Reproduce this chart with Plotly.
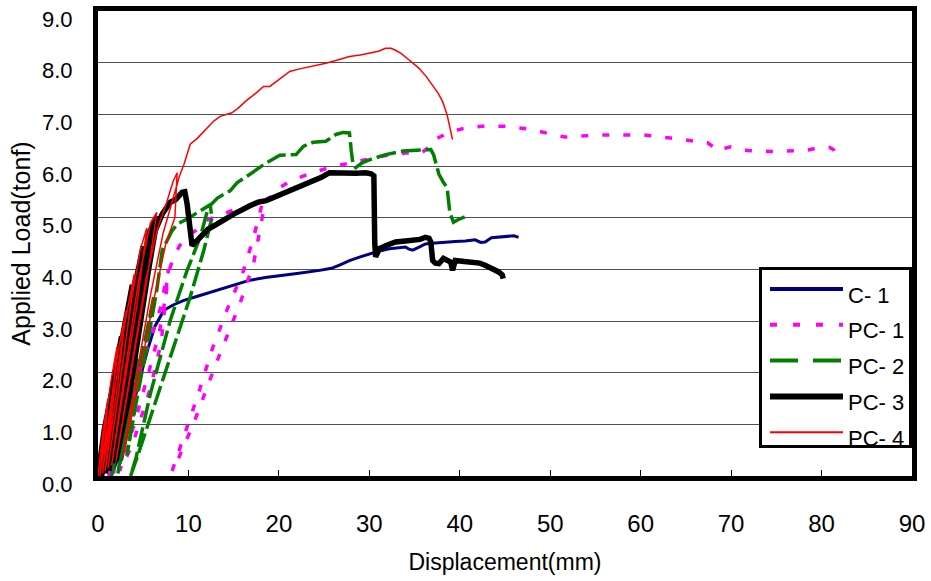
import plotly.graph_objects as go

# ---------------- data ----------------
series_names = ["C- 1", "PC- 1", "PC- 2", "PC- 3", "PC- 4"]
x_tick_vals = [0, 10, 20, 30, 40, 50, 60, 70, 80, 90]
y_tick_vals = [0, 1, 2, 3, 4, 5, 6, 7, 8, 9]

c1_x = [1.2, 2.0, 2.8, 3.6, 3.0, 2.2, 1.6, 2.4, 3.4, 4.4, 5.0, 4.3, 3.3, 2.6, 3.4, 4.5,
        5.5, 6.3, 7.3, 8.3, 9.5, 11.0, 13.2, 15.0, 16.8, 18.5, 20.1, 22.0, 24.5, 25.8,
        26.7, 27.8, 29.0, 30.0, 31.0, 32.2, 33.2, 34.0, 34.4, 34.8, 35.5, 36.2, 37.3,
        38.4, 39.5, 40.6, 41.7, 42.3, 42.8, 43.5, 44.5, 45.4, 46.0, 46.5]
c1_y = [0.0, 0.45, 0.95, 1.45, 1.0, 0.35, 0.05, 0.6, 1.3, 1.95, 2.3, 1.7, 0.9, 0.3, 1.0, 1.8,
        2.45, 2.9, 3.21, 3.31, 3.40, 3.48, 3.60, 3.70, 3.79, 3.84, 3.87, 3.92, 3.98, 4.02,
        4.08, 4.17, 4.24, 4.30, 4.35, 4.40, 4.42, 4.43, 4.39, 4.37, 4.43, 4.49, 4.51,
        4.53, 4.54, 4.55, 4.57, 4.52, 4.53, 4.61, 4.63, 4.65, 4.65, 4.62]

pc1_x = [1.2, 2.2, 3.3, 4.2, 3.4, 1.7, 2.8, 4.2, 5.3, 6.3, 7.0, 7.5, 7.8, 7.4, 7.0, 5.8,
         3.8, 2.4, 4.0, 5.6, 6.8, 7.4, 7.7, 8.3, 9.0, 9.8, 10.8, 12.0,
         13.5, 15.0, 16.5, 17.5, 18.2, 17.2, 16.1, 14.25, 12.6, 11.0, 9.5, 8.4, 8.2, 8.8,
         10.6, 12.8, 14.6, 15.7, 17.2, 18.0, 18.3, 18.5, 19.5, 20.1, 21.0, 22.0, 23.5,
         25.6, 27.0, 28.9, 30.5, 32.2, 34.0, 35.8, 36.5, 36.9, 38.0, 39.1, 40.5, 42.4,
         45.0, 47.9, 50.0, 51.6, 53.5, 55.3, 57.8, 60.4, 63.3, 64.8, 66.5, 67.4, 68.2,
         68.6, 69.3, 69.9, 70.8, 71.8, 73.5, 75.1, 77.3, 78.5, 79.5, 80.9, 81.3, 81.6, 82.2]
pc1_y = [0.0, 0.6, 1.3, 1.8, 1.0, 0.05, 0.9, 1.8, 2.4, 2.9, 3.3, 3.8, 4.0, 3.3, 2.6, 1.7,
         0.6, 0.1, 1.0, 2.0, 2.8, 3.4, 3.9, 4.2, 4.45, 4.65, 4.75, 4.95,
         5.05, 5.15, 5.22, 5.27, 5.30, 4.62, 3.98, 3.21, 2.44, 1.54, 0.78, 0.2, 0.1, 0.3,
         1.03, 2.06, 2.83, 3.34, 4.11, 4.8, 5.13, 5.33, 5.45, 5.58, 5.68, 5.76, 5.86,
         5.97, 6.03, 6.10, 6.15, 6.22, 6.25, 6.26, 6.35, 6.48, 6.58, 6.67, 6.73, 6.77,
         6.77, 6.71, 6.62, 6.56, 6.58, 6.60, 6.60, 6.60, 6.54, 6.51, 6.48, 6.45, 6.35,
         6.29, 6.34, 6.37, 6.33, 6.30, 6.29, 6.28, 6.30, 6.31, 6.35, 6.36, 6.32, 6.23, 6.13]

pc2_x = [1.5, 2.5, 3.5, 4.5, 3.6, 2.6, 2.2, 3.2, 4.5, 5.5, 6.2, 5.3, 4.0, 3.2, 4.2, 5.5,
         6.5, 7.1, 8.2, 8.8, 9.7, 11.3, 12.4, 12.6, 11.7, 10.2, 8.0, 5.8, 4.5, 3.6, 4.2,
         5.8, 8.0, 9.85, 11.3, 12.2, 13.2, 14.6, 15.4, 16.8, 17.6, 18.6, 20.1, 21.9, 22.7,
         23.8, 25.2, 26.3, 27.1, 27.8, 28.0, 28.2, 28.5, 29.2, 30.0, 31.8, 33.7, 35.0,
         36.8, 37.1, 37.7, 38.2, 38.6, 38.9, 39.3, 39.8, 40.6]
pc2_y = [0.0, 0.8, 1.6, 2.3, 1.4, 0.5, 0.05, 0.9, 2.0, 2.9, 3.5, 2.6, 1.3, 0.4, 1.4, 2.6,
         3.6, 4.37, 4.75, 4.88, 4.96, 5.13, 5.25, 5.0, 4.37, 3.47, 2.31, 1.1, 0.45, 0.0, 0.35,
         1.6, 3.02, 3.98, 4.62, 5.2, 5.38, 5.52, 5.68, 5.84, 5.94, 6.06, 6.21, 6.22, 6.38,
         6.46, 6.48, 6.61, 6.65, 6.64, 6.3, 6.03, 5.97, 6.06, 6.12, 6.22, 6.29, 6.30,
         6.32, 6.22, 5.84, 5.68, 5.58, 5.10, 4.91, 4.96, 5.02]

pc3_x = [0.0, 0.7, 1.5, 1.1, 0.4, 0.9, 1.6, 2.6, 1.9, 0.8, 1.5, 2.5, 3.8, 2.8, 1.2,
         2.0, 3.5, 4.4, 5.0, 3.8, 1.6, 2.7, 4.3, 5.7, 6.6, 5.5, 3.5, 2.0, 3.2, 4.8,
         6.2, 7.1, 8.0, 8.6, 9.3, 9.6, 9.85, 10.2, 10.4, 11.3, 12.2, 13.2, 14.1, 15.0,
         16.8, 17.7, 18.6, 19.3, 20.1, 21.5, 22.5, 23.8, 24.7, 25.6, 26.5, 27.4, 28.5,
         29.6, 30.2, 30.5, 30.5, 30.6, 30.7, 31.1, 32.0, 32.9, 34.0, 34.8, 35.6, 36.2,
         36.6, 36.8, 37.0, 37.3, 37.7, 38.2, 38.6, 39.0, 39.2, 39.5, 40.5, 41.4, 42.2,
         42.8, 43.6, 44.3, 44.7, 44.8]
pc3_y = [0.0, 0.9, 1.6, 0.8, 0.0, 0.8, 1.7, 2.7, 1.5, 0.05, 1.2, 2.5, 3.7, 2.3, 0.1,
         1.4, 3.2, 3.95, 4.45, 3.0, 0.25, 1.6, 3.5, 4.73, 5.02, 3.9, 1.6, 0.3, 1.7, 3.6,
         4.7, 5.07, 5.30, 5.35, 5.49, 5.50, 5.27, 4.81, 4.46, 4.62, 4.78, 4.88, 4.98, 5.07,
         5.23, 5.30, 5.33, 5.38, 5.46, 5.55, 5.62, 5.71, 5.78, 5.87, 5.86, 5.87, 5.86,
         5.87, 5.85, 5.81, 5.0, 4.5, 4.24, 4.40, 4.47, 4.53, 4.55, 4.56, 4.58, 4.62,
         4.60, 4.53, 4.17, 4.12, 4.11, 4.21, 4.17, 4.14, 3.98, 4.17, 4.15, 4.14, 4.12,
         4.08, 4.02, 3.95, 3.89, 3.82]

pc4_x = [0.0, 0.5, 1.1, 0.8, 0.2, 0.7, 1.4, 2.1, 1.5, 0.5, 1.2, 2.2, 3.1, 2.2, 0.8,
         1.7, 2.9, 4.0, 3.0, 1.1, 2.2, 3.7, 4.7, 5.4, 4.3, 1.5, 2.8, 4.5, 5.8, 6.5,
         5.5, 2.0, 3.4, 5.3, 6.6, 7.6, 8.3, 8.75, 8.5, 7.5, 6.0, 4.2, 2.8, 4.2, 5.8,
         7.2, 8.3, 9.0, 9.5, 10.2, 11.0, 11.7, 12.8, 13.5, 14.8,
         15.5, 16.5, 17.4, 18.3, 19.0, 20.1, 21.2, 22.3, 23.4, 25.2, 26.5, 27.8, 29.0,
         30.0, 31.0, 31.8, 32.4, 32.9, 33.5, 34.2, 35.0, 35.5, 36.3, 37.0, 37.6, 38.1,
         38.6, 39.0, 39.2]
pc4_y = [0.0, 0.8, 1.5, 0.7, 0.0, 0.9, 1.8, 2.5, 1.3, 0.05, 1.1, 2.4, 3.2, 1.8, 0.1,
         1.5, 2.9, 3.9, 2.5, 0.15, 1.6, 3.4, 4.4, 4.8, 3.3, 0.2, 1.8, 3.8, 4.9, 5.1,
         3.9, 0.3, 1.8, 3.8, 4.8, 5.3, 5.7, 5.87, 5.0, 4.5, 3.27, 1.6, 0.4, 1.9, 3.5,
         4.7, 5.4, 5.8, 6.03, 6.42, 6.54, 6.67, 6.87, 6.96, 7.03,
         7.12, 7.28, 7.40, 7.54, 7.54, 7.68, 7.83, 7.88, 7.92, 7.99, 8.05, 8.12, 8.15,
         8.18, 8.22, 8.28, 8.28, 8.24, 8.18, 8.08, 7.97, 7.89, 7.73, 7.57, 7.41, 7.25,
         6.99, 6.67, 6.51]

# ---------------- styles ----------------
series_x = [c1_x, pc1_x, pc2_x, pc3_x, pc4_x]
series_y = [c1_y, pc1_y, pc2_y, pc3_y, pc4_y]
colors = ["#000080", "#FF00FF", "#008000", "#000000", "#FF0000"]
widths = [3, 3.5, 3.5, 5.5, 1.5]
dashes = ["solid", "7px,14px", "20px,5px", "solid", "solid"]
legend_widths = [4, 4, 4, 6, 2]
legend_dashes = ["solid", "7px,16px", "28px,15px", "solid", "solid"]

fig = go.Figure()
for xs, ys, c, w, d, n in zip(series_x, series_y, colors, widths, dashes, series_names):
    fig.add_trace(go.Scatter(x=xs, y=ys, mode="lines", name=n,
                             line=dict(color=c, width=w, dash=d),
                             xaxis="x", yaxis="y", showlegend=False, hoverinfo="skip"))

W, H = 931, 581
L, R, T, B = 98, 19, 11, 105
pw, ph = W - L - R, H - T - B
# legend box edges (page pixels)
lx0, lx1, ly0, ly1 = 762, 909, 270, 445
box_w, box_h = float(lx1 - lx0), float(ly1 - ly0)

# custom legend box (clipped at the bottom like the original)
for i, (n, c, w, d) in enumerate(zip(series_names, colors, legend_widths, legend_dashes)):
    row = 1 - (19 + 35.8 * i) / box_h
    fig.add_trace(go.Scatter(x=[8 / box_w, 81 / box_w], y=[row, row], mode="lines",
                             line=dict(color=c, width=w, dash=d),
                             xaxis="x2", yaxis="y2", showlegend=False, hoverinfo="skip"))
    fig.add_trace(go.Scatter(x=[86 / box_w], y=[row - 8 / box_h], mode="text", text=[n],
                             textposition="middle right", cliponaxis=True,
                             textfont=dict(family="Liberation Sans, Arial, sans-serif",
                                           size=22, color="black"),
                             xaxis="x2", yaxis="y2", showlegend=False, hoverinfo="skip"))

fig.update_layout(
    width=W, height=H,
    margin=dict(l=L, r=R, t=T, b=B, pad=0, autoexpand=False),
    paper_bgcolor="white", plot_bgcolor="white",
    font=dict(family="Liberation Sans, Arial, sans-serif", color="black"),
    xaxis=dict(
        range=[0, 90], tickvals=x_tick_vals, ticks="inside", ticklen=6,
        tickwidth=1, tickcolor="black", showline=True, mirror=True, linewidth=5,
        linecolor="black", showgrid=False, zeroline=False, automargin=False,
        tickfont=dict(family="Liberation Sans Narrow, Arial Narrow, Liberation Sans, sans-serif",
                      size=24, color="black"),
        ticklabelstandoff=22,
        title=dict(text="Displacement(mm)", standoff=20,
                   font=dict(family="Liberation Sans, Arial, sans-serif", size=23)),
    ),
    yaxis=dict(
        range=[0, 9], tickvals=y_tick_vals, tickformat=".1f", ticks="",
        showline=True, mirror=True, linewidth=5, linecolor="black",
        showgrid=True, gridcolor="#505050", gridwidth=1.2, zeroline=False, automargin=False,
        tickfont=dict(family="Liberation Sans, Arial, sans-serif", size=22, color="black"),
        ticklabelstandoff=16, ticklabelshift=8,
        title=dict(text="Applied Load(tonf)", standoff=6,
                   font=dict(family="Liberation Sans, Arial, sans-serif", size=25)),
    ),
    xaxis2=dict(domain=[(lx0 - L) / pw, (lx1 - L) / pw], range=[0, 1], anchor="y2",
                showline=True, mirror=True, linewidth=3, linecolor="black", automargin=False,
                showgrid=False, zeroline=False, showticklabels=False, ticks="", fixedrange=True),
    yaxis2=dict(domain=[(H - B - ly1) / ph, (H - B - ly0) / ph], range=[0, 1], anchor="x2",
                showline=True, mirror=True, linewidth=3, linecolor="black", automargin=False,
                showgrid=False, zeroline=False, showticklabels=False, ticks="", fixedrange=True),
)

fig.write_html("out.html", config={"displayModeBar": False},
               post_script="document.body.style.margin='0';document.body.style.padding='0';")
